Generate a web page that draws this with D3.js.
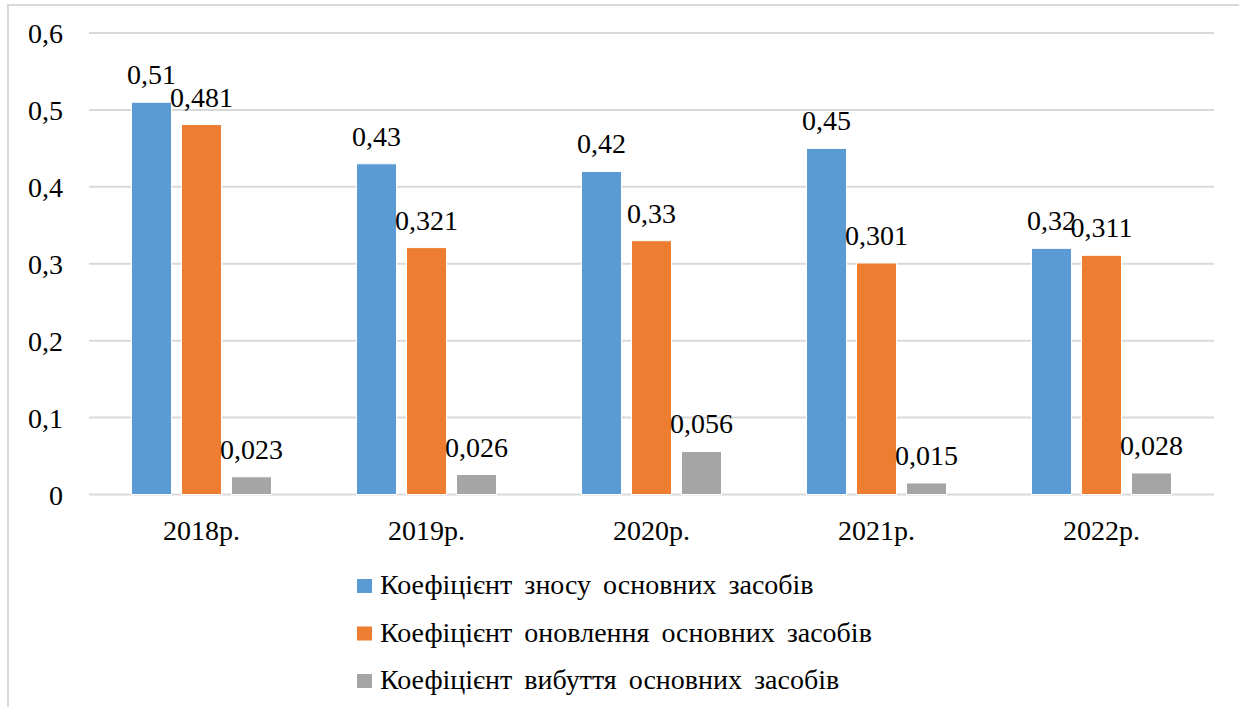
<!DOCTYPE html>
<html>
<head>
<meta charset="utf-8">
<script src="https://cdn.jsdelivr.net/npm/d3@7"></script>
</head>
<body style="margin:0">
<svg id="s" width="1239" height="707"></svg>
<script>
// Years on the category axis
const years = ["2018р.", "2019р.", "2020р.", "2021р.", "2022р."];
// Series names (legend order)
const seriesNames = [
  "Коефіцієнт зносу основних засобів",
  "Коефіцієнт оновлення основних засобів",
  "Коефіцієнт вибуття основних засобів"
];
// Values per series, one per year
const wearRatio     = [0.51, 0.43, 0.42, 0.45, 0.32];
const renewalRatio  = [0.481, 0.321, 0.33, 0.301, 0.311];
const disposalRatio = [0.023, 0.026, 0.056, 0.015, 0.028];
// Value-axis ticks
const yTicks = [0, 0.1, 0.2, 0.3, 0.4, 0.5, 0.6];
const colors = ["#5b9bd5", "#ed7d31", "#a5a5a5"];

const fams = ["Liberation Serif"];
const seriesValues = [wearRatio, renewalRatio, disposalRatio];
const fmt = v => String(v).replace(".", ",");

const svg = d3.select("#s");

// Label helper: every label sits directly on the root svg
function label(x, yPos, str, anchor) {
  return svg.append("text")
    .attr("x", x)
    .attr("y", yPos)
    .attr("text-anchor", anchor)
    .style("font-family", `'${fams[0]}'`)
    .style("font-size", "28px")
    .text(str);
}

// Outer frame
svg.append("path")
  .attr("d", "M8,707 V5 H1239")
  .attr("fill", "none")
  .attr("stroke", "#d9d9d9")
  .attr("stroke-width", 2);

const plot = { left: 89, right: 1214, top: 33, bottom: 494.5 };
const y = d3.scaleLinear().domain([0, 0.6]).range([plot.bottom, plot.top]);
const x0 = d3.scaleBand().domain(years).range([plot.left, plot.right]).padding(0);
const groupWidth = 140;
const x1 = d3.scaleBand().domain(d3.range(seriesNames.length)).range([0, groupWidth]).paddingInner(0.2);
const groupStart = yr => x0(yr) + x0.bandwidth() / 2 - groupWidth / 2;

// Gridlines
yTicks.forEach(t => {
  svg.append("line")
    .attr("x1", plot.left).attr("x2", plot.right)
    .attr("y1", y(t)).attr("y2", y(t))
    .attr("stroke", "#d9d9d9").attr("stroke-width", 2);
});

// Value axis labels
yTicks.forEach(t => label(63, y(t) + 10, fmt(t), "end"));

// Category labels
years.forEach(yr => label(x0(yr) + x0.bandwidth() / 2, 540, yr, "middle"));

// Bars and value labels
years.forEach((yr, yi) => {
  seriesValues.forEach((vals, si) => {
    const v = vals[yi];
    const bx = groupStart(yr) + x1(si);
    svg.append("rect")
      .attr("x", bx)
      .attr("y", y(v))
      .attr("width", x1.bandwidth())
      .attr("height", y(0) - y(v))
      .attr("fill", colors[si])
      .attr("stroke", "#fff")
      .attr("stroke-width", 1);
  });
});
years.forEach((yr, yi) => {
  seriesValues.forEach((vals, si) => {
    const v = vals[yi];
    label(groupStart(yr) + x1(si) + x1.bandwidth() / 2, y(v) - 18, fmt(v), "middle");
  });
});

// Legend
seriesNames.forEach((name, i) => {
  const ly = 594 + i * 47.5;
  svg.append("rect")
    .attr("x", 357).attr("y", ly - 15)
    .attr("width", 15).attr("height", 14)
    .attr("fill", colors[i]);
  label(380, ly, name, "start").style("word-spacing", "5px");
});
</script>
</body>
</html>
